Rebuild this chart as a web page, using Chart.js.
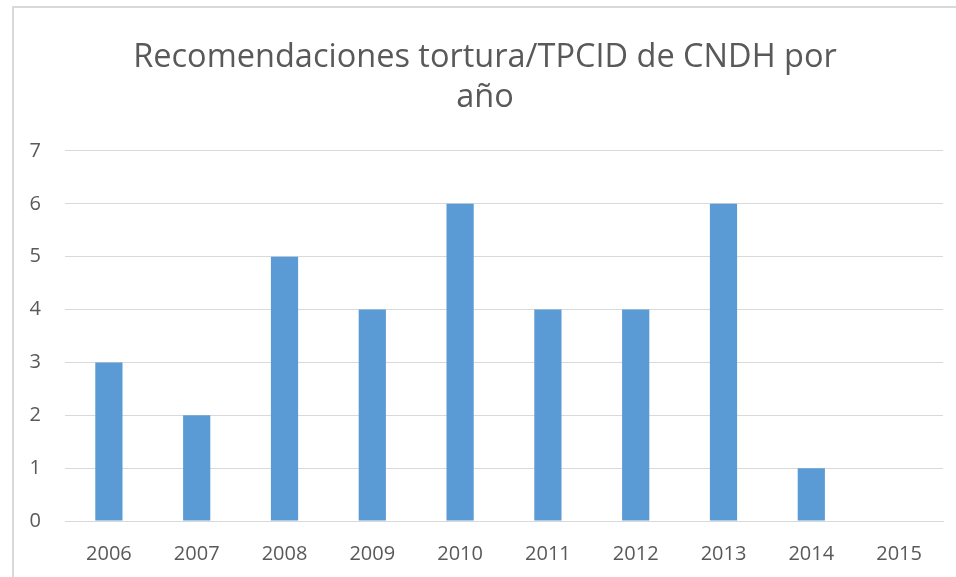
<!DOCTYPE html>
<html>
<head>
<meta charset="utf-8">
<script src="https://cdn.jsdelivr.net/npm/chart.js@4/dist/chart.umd.min.js"></script>
<style>
  html, body { margin: 0; padding: 0; background: #fff; }
  #wrap { position: relative; width: 956px; height: 577px; }
</style>
</head>
<body>
<div id="wrap"><canvas id="chart"></canvas></div>
<script>
// data
const years = ["2006", "2007", "2008", "2009", "2010", "2011", "2012", "2013", "2014", "2015"];
const recomendaciones = [3, 2, 5, 4, 6, 4, 4, 6, 1, 0];
const titleLines = ["Recomendaciones tortura/TPCID de CNDH por", "año"];

const fontFamily = "'Open Sans', 'Liberation Sans', sans-serif";
const textColor = "#595959";
const gridColor = "#d9d9d9";

// light frame around the chart, cut off at right and bottom like the screenshot
const framePlugin = {
  id: "frame",
  beforeDraw(chart) {
    const ctx = chart.ctx;
    ctx.save();
    ctx.strokeStyle = "#d9d9d9";
    ctx.lineWidth = 2;
    ctx.strokeRect(13, 7, 1000, 700);
    ctx.restore();
  }
};

const ctx = document.getElementById("chart").getContext("2d");
new Chart(ctx, {
  type: "bar",
  data: {
    labels: years,
    datasets: [{
      data: recomendaciones,
      backgroundColor: "#5b9bd5",
      borderWidth: 0,
      categoryPercentage: 1,
      barPercentage: 0.31
    }]
  },
  options: {
    responsive: true,
    maintainAspectRatio: false,
    animation: false,
    layout: { padding: { left: 27, right: 13, top: 0, bottom: 8 } },
    plugins: {
      legend: { display: false },
      tooltip: { enabled: false },
      title: {
        display: true,
        text: titleLines,
        color: textColor,
        font: { family: fontFamily, size: 32.5, weight: "normal", lineHeight: 1.23 },
        padding: { top: 38, bottom: 33 }
      }
    },
    scales: {
      x: {
        afterFit(scale) { scale.height = 48; },
        grid: { display: false, drawTicks: false },
        border: { color: gridColor },
        ticks: { color: textColor, font: { family: fontFamily, size: 20 }, padding: 21, maxRotation: 0 }
      },
      y: {
        min: 0,
        max: 7,
        afterFit(scale) { scale.width = 38; },
        grid: { color: gridColor, drawTicks: false },
        border: { display: false },
        ticks: { stepSize: 1, color: textColor, font: { family: fontFamily, size: 20 }, padding: 24 }
      }
    }
  },
  plugins: [framePlugin]
});
</script>
</body>
</html>
